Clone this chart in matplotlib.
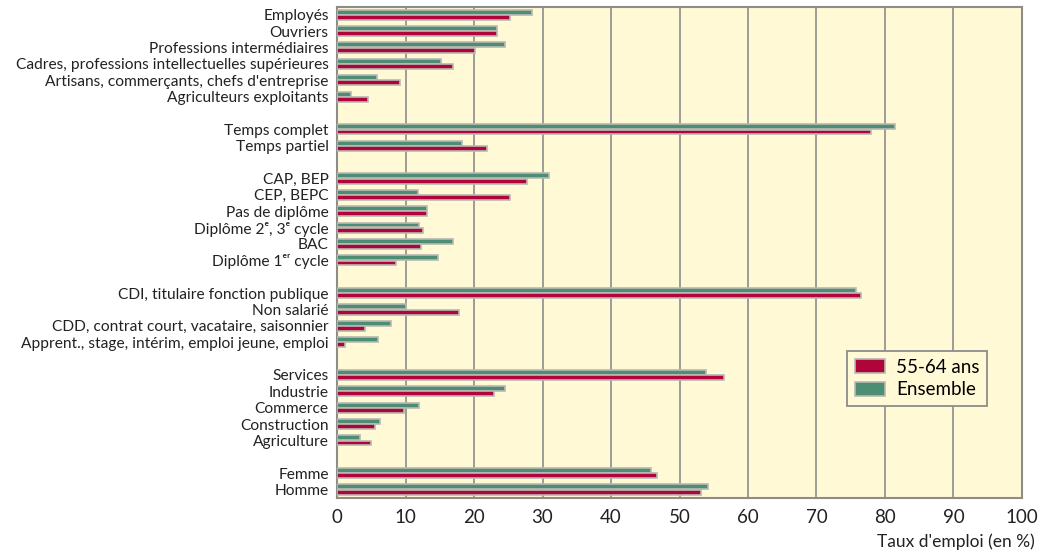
import numpy as np
import matplotlib
matplotlib.use("Agg")
import matplotlib.pyplot as plt

plt.rcParams["font.family"] = ["Lato", "DejaVu Sans"]

categories = [
    "Employés", "Ouvriers", "Professions intermédiaires",
    "Cadres, professions intellectuelles supérieures",
    "Artisans, commerçants, chefs d'entreprise", "Agriculteurs exploitants",
    "",
    "Temps complet", "Temps partiel",
    "",
    "CAP, BEP", "CEP, BEPC", "Pas de diplôme", "Diplôme 2ᵉ, 3ᵉ cycle", "BAC",
    "Diplôme 1ᵉʳ cycle",
    "",
    "CDI, titulaire fonction publique", "Non salarié",
    "CDD, contrat court, vacataire, saisonnier",
    "Apprent., stage, intérim, emploi jeune, emploi",
    "",
    "Services", "Industrie", "Commerce", "Construction", "Agriculture",
    "",
    "Femme", "Homme",
]

ensemble = [28.5, 23.4, 24.5, 15.2, 5.8, 2.1, np.nan,
            81.5, 18.3, np.nan,
            31.0, 11.8, 13.2, 11.9, 17.0, 14.8, np.nan,
            75.7, 10.1, 7.9, 6.0, np.nan,
            53.9, 24.5, 11.9, 6.2, 3.4, np.nan,
            45.8, 54.1]

seniors = [25.3, 23.3, 20.2, 16.9, 9.2, 4.5, np.nan,
           77.9, 21.9, np.nan,
           27.7, 25.2, 13.1, 12.6, 12.2, 8.6, np.nan,
           76.5, 17.8, 4.1, 1.2, np.nan,
           56.5, 22.9, 9.8, 5.5, 4.9, np.nan,
           46.7, 53.1]

green = "#4d8d74"
red = "#b0053a"
edge = "#b9b9b2"
bg = "#fff9d5"

fig = plt.figure(figsize=(10.39, 5.53), dpi=100)
ax = fig.add_axes([0.3244, 0.1, 0.6592, 0.888])
ax.set_facecolor(bg)

y = np.arange(len(categories))
h = 0.3
ax.barh(y - 0.16, ensemble, height=h, color=green, edgecolor=edge,
        linewidth=1.2, label="Ensemble", zorder=3)
ax.barh(y + 0.16, seniors, height=h, color=red, edgecolor=edge,
        linewidth=1.2, label="55-64 ans", zorder=3)

ax.set_xlim(0, 100)
ax.set_ylim(len(categories) - 0.5, -0.5)
ax.set_yticks(y)
ax.set_yticklabels(categories, fontsize=11.2, color="#222222")
ax.set_xticks(np.arange(0, 101, 10))
ax.tick_params(axis="x", labelsize=13.5, length=0, pad=8, colors="#222222")
ax.tick_params(axis="y", length=0, pad=6)
ax.xaxis.grid(True, color="#8c8c8c", linewidth=1.2, zorder=0)
ax.set_axisbelow(True)
for s in ax.spines.values():
    s.set_color("#8c8c8c")
    s.set_linewidth(1.5)

ax.text(1.019, -0.072, "Taux d'emploi (en %)", transform=ax.transAxes,
        ha="right", va="top", fontsize=12.5, color="#222222")

handles, labels = ax.get_legend_handles_labels()
leg = ax.legend(handles[::-1], labels[::-1], loc="lower left",
                bbox_to_anchor=(0.745, 0.187), fontsize=13.5, frameon=True,
                fancybox=False, facecolor=bg, edgecolor="#8c8c8c",
                borderaxespad=0, handlelength=1.6, handleheight=0.8,
                handletextpad=0.6, labelspacing=0.3, borderpad=0.4)
leg.get_frame().set_linewidth(1.3)
leg.get_frame().set_alpha(1)

fig.savefig("out.png", dpi=100, facecolor="white")
